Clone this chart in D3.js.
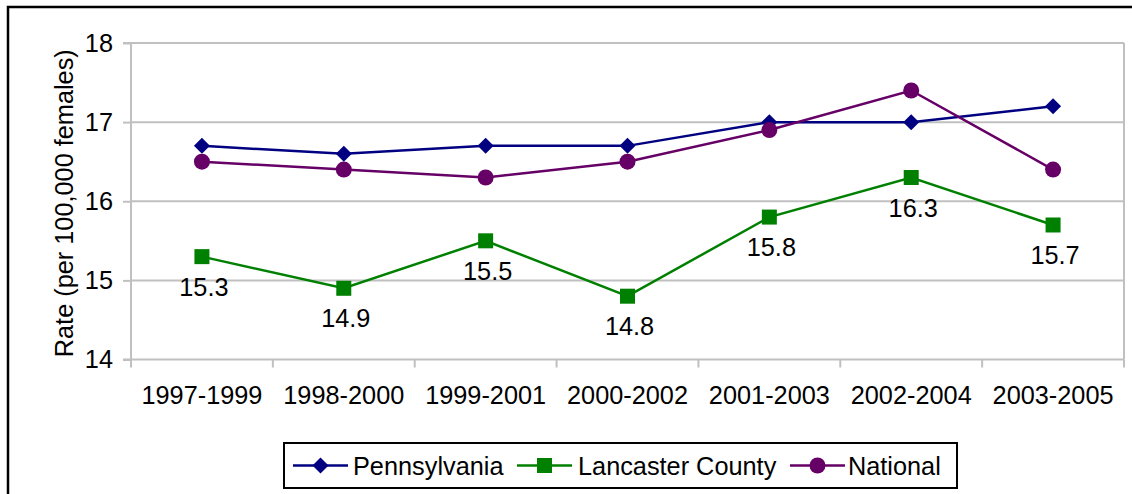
<!DOCTYPE html>
<html><head><meta charset="utf-8">
<script src="https://cdn.jsdelivr.net/npm/d3@7"></script>
<style>
html,body{margin:0;padding:0;background:#fff;}
svg{display:block;font-family:"Liberation Sans",Arial,sans-serif;}
</style></head>
<body>
<svg id="chart" width="1132" height="494"></svg>
<script>
const categories = ["1997-1999","1998-2000","1999-2001","2000-2002","2001-2003","2002-2004","2003-2005"];
const pennsylvania = [16.7,16.6,16.7,16.7,17.0,17.0,17.2];
const lancaster = [15.3,14.9,15.5,14.8,15.8,16.3,15.7];
const national = [16.5,16.4,16.3,16.5,16.9,17.4,16.4];
const yTicks = [14,15,16,17,18];
const seriesNames = ["Pennsylvania","Lancaster County","National"];

const svg = d3.select("#chart");
const W = 1132, H = 494;
const plot = {left:131, right:1124, top:43, bottom:359.5};
const FS = 25.3;

// outer frame
svg.append("rect").attr("x",8).attr("y",7).attr("width",W+20).attr("height",H+20)
  .attr("fill","#fff").attr("stroke","#000").attr("stroke-width",2.5);

const x = d3.scaleBand().domain(categories).range([plot.left, plot.right]).padding(0);
const y = d3.scaleLinear().domain([14,18]).range([plot.bottom, plot.top]);
const grey = "#c0c0c0";

// gridlines
svg.append("g").selectAll("line").data(yTicks.filter(t=>t>14)).join("line")
  .attr("x1",plot.left).attr("x2",plot.right)
  .attr("y1",d=>y(d)).attr("y2",d=>y(d))
  .attr("stroke",grey).attr("stroke-width",2);
// right border
svg.append("line").attr("x1",plot.right).attr("x2",plot.right)
  .attr("y1",plot.top).attr("y2",plot.bottom).attr("stroke",grey).attr("stroke-width",2);

// y axis
const yAxis = d3.axisLeft(y).tickValues(yTicks).tickSize(8).tickPadding(10).tickFormat(d3.format("d"));
const gy = svg.append("g").attr("transform",`translate(${plot.left},0)`).call(yAxis);
gy.select(".domain").attr("stroke",grey).attr("stroke-width",2).attr("d",`M-8,${plot.top}H0V${plot.bottom}H-8`);
gy.selectAll(".tick line").attr("stroke",grey).attr("stroke-width",2);
gy.selectAll(".tick text").attr("font-size",FS).attr("fill","#000").attr("font-family","Liberation Sans, Arial, sans-serif");

// x axis
const xAxis = d3.axisBottom(x).tickSize(0).tickPadding(27);
const gx = svg.append("g").attr("transform",`translate(0,${plot.bottom})`).call(xAxis);
gx.select(".domain").attr("stroke",grey).attr("stroke-width",2).attr("d",`M${plot.left},0H${plot.right}`);
gx.selectAll(".tick text").attr("font-size",FS).attr("fill","#000").attr("font-family","Liberation Sans, Arial, sans-serif");
// boundary ticks
const bounds = categories.map(c=>x(c)).concat([plot.right]);
svg.append("g").selectAll("line").data(bounds).join("line")
  .attr("x1",d=>d).attr("x2",d=>d).attr("y1",plot.bottom).attr("y2",plot.bottom+8)
  .attr("stroke",grey).attr("stroke-width",2);

// y title
svg.append("text").attr("transform",`translate(73,${(plot.top+plot.bottom)/2+2}) rotate(-90)`)
  .attr("text-anchor","middle").attr("font-size",FS).attr("fill","#000")
  .text("Rate (per 100,000 females)");

const cx = c => x(c) + x.bandwidth()/2;
const series = [
  {name:seriesNames[0], values:pennsylvania, color:"#000080", marker:"diamond"},
  {name:seriesNames[1], values:lancaster, color:"#008000", marker:"square"},
  {name:seriesNames[2], values:national, color:"#660066", marker:"circle"}
];

function drawMarker(g, type, color){
  if(type==="diamond"){
    g.append("path").attr("d","M0,-8L8,0L0,8L-8,0Z").attr("fill",color);
  } else if(type==="square"){
    g.append("rect").attr("x",-7.5).attr("y",-7.5).attr("width",15).attr("height",15).attr("fill",color);
  } else {
    g.append("circle").attr("r",8).attr("fill",color);
  }
}

const line = d3.line().x((d,i)=>cx(categories[i])).y(d=>y(d));
series.forEach(s=>{
  svg.append("path").datum(s.values).attr("d",line).attr("fill","none")
    .attr("stroke",s.color).attr("stroke-width",2.5);
  s.values.forEach((v,i)=>{
    const g = svg.append("g").attr("transform",`translate(${cx(categories[i])},${y(v)})`);
    drawMarker(g, s.marker, s.color);
  });
});

// Lancaster data labels
svg.append("g").selectAll("text").data(lancaster).join("text")
  .attr("x",(d,i)=>cx(categories[i])+2).attr("y",d=>y(d)+39)
  .attr("text-anchor","middle").attr("font-size",FS).attr("fill","#000")
  .text(d=>d3.format(".1f")(d));

// legend
const lg = svg.append("g");
lg.append("rect").attr("x",284).attr("y",443).attr("width",673).attr("height",45)
  .attr("fill","#fff").attr("stroke","#000").attr("stroke-width",2);
const legendItems = [
  {lx1:293, lx2:348, tx:353},
  {lx1:517, lx2:572, tx:578},
  {lx1:790, lx2:845, tx:848}
];
series.forEach((s,i)=>{
  const it = legendItems[i];
  const ly = 465.5;
  lg.append("line").attr("x1",it.lx1).attr("x2",it.lx2).attr("y1",ly).attr("y2",ly)
    .attr("stroke",s.color).attr("stroke-width",2.5);
  const g = lg.append("g").attr("transform",`translate(${(it.lx1+it.lx2)/2},${ly})`);
  drawMarker(g, s.marker, s.color);
  lg.append("text").attr("x",it.tx).attr("y",ly+9).attr("font-size",FS).attr("fill","#000").text(s.name);
});
</script>
</body></html>
